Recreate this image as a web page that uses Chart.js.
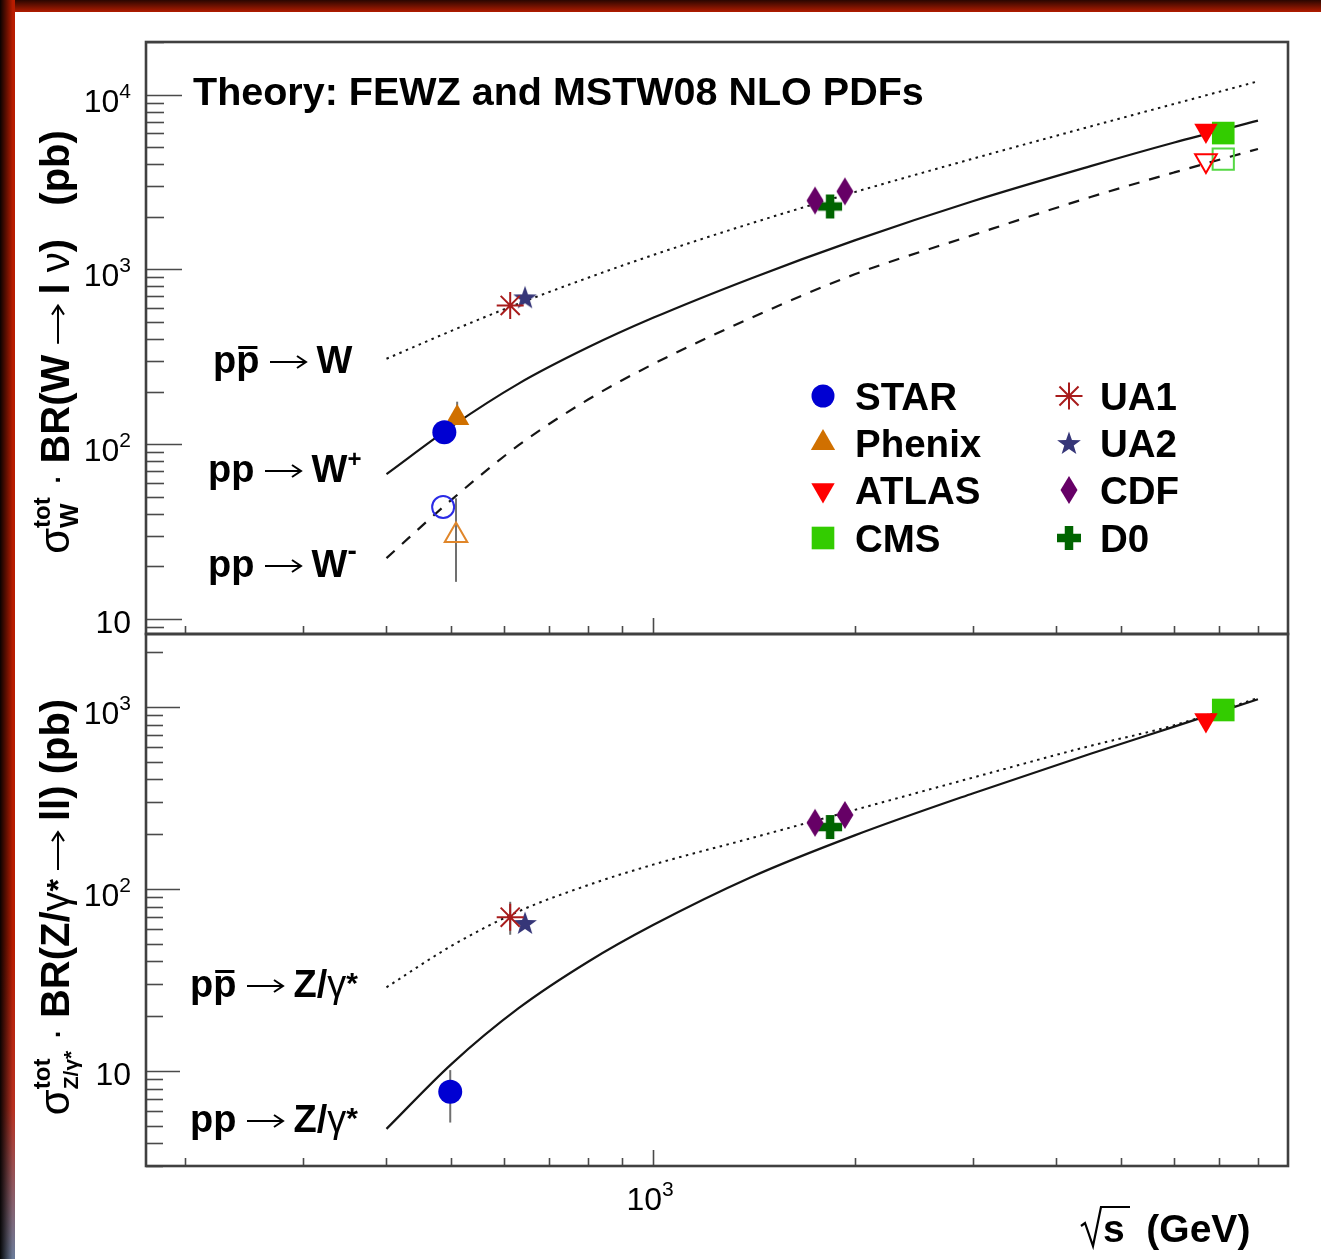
<!DOCTYPE html>
<html>
<head>
<meta charset="utf-8">
<script src="https://cdn.jsdelivr.net/npm/chart.js@4.4.1/dist/chart.umd.min.js"></script>
<style>
  html, body { margin: 0; padding: 0; background: #fff; }
  #page { position: relative; width: 1321px; height: 1259px; overflow: hidden; background: #fff; }
  #edgeTop { position: absolute; left: 0; top: 0; width: 1321px; height: 12px;
    background: linear-gradient(to bottom, #2a0600, #b21c00); }
  #edgeLeft { position: absolute; left: 0; top: 0; width: 15px; height: 1259px;
    background: linear-gradient(to right, rgba(0,0,0,0.95), rgba(0,0,0,0) 85%),
                linear-gradient(to bottom, #b81c00 0%, #b81c00 75%, #b83020 88%, #6a7c9a 100%); }
  canvas { position: absolute; left: 0; top: 0; }
</style>
</head>
<body>
<div id="page">
  <div id="edgeTop"></div>
  <div id="edgeLeft"></div>
  <canvas id="wChart" width="1321" height="1259"></canvas>
  <canvas id="zChart" width="1321" height="1259"></canvas>
</div>
<script>
const FONT = '"Liberation Sans", Arial, Helvetica, sans-serif';
const SYM = '"Liberation Sans", "DejaVu Sans", sans-serif';

// theory curves (FEWZ, MSTW08 NLO): sqrt(s) in GeV, sigma x BR in pb
const sqrtS  = [400, 500, 630, 800, 1000, 1400, 2000, 3000, 4500, 6000, 8000];
const wPPbar = [308, 445, 637, 896, 1208, 1832, 2767, 4295, 6577, 8850, 11910];
const wPlus  = [67.4, 126, 222, 358, 528, 888, 1466, 2455, 3898, 5321, 7100];
const wMinus = [22.3, 48.0, 98.6, 180, 287, 527, 937, 1570, 2594, 3589, 4887];
const zPPbar = [28.8, 48.6, 75.3, 105, 136, 190, 272, 409, 612, 794, 1122];
const zPP    = [4.80, 10.9, 22.1, 39.8, 63.3, 116, 197, 335, 553, 780, 1104];

// measurements (points shifted a little in sqrt(s) so they don't overlap)
const starW    = [{ x: 488, y: 117 }];
const starWm   = [{ x: 486, y: 43.7 }];
const starZ    = [{ x: 498, y: 7.67, lo: 5.2, hi: 10.1 }];
const phenixW  = [{ x: 510, y: 141, lo: 130, hi: 175 }];
const phenixWm = [{ x: 508, y: 30, lo: 16.3, hi: 49 }];
const atlasW   = [{ x: 6690, y: 6223 }];
const atlasWm  = [{ x: 6690, y: 4197 }];
const atlasZ   = [{ x: 6690, y: 848 }];
const cmsW     = [{ x: 7100, y: 6025 }];
const cmsWm    = [{ x: 7100, y: 4276 }];
const cmsZ     = [{ x: 7100, y: 963 }];
const ua1W     = [{ x: 612, y: 622 }];
const ua1Z     = [{ x: 612, y: 70, lo: 56, hi: 85 }];
const ua2W     = [{ x: 644, y: 692 }];
const ua2Z     = [{ x: 644, y: 65 }];
const cdfW     = [{ x: 1745, y: 2478 }, { x: 1934, y: 2794 }];
const cdfZ     = [{ x: 1745, y: 231 }, { x: 1934, y: 255 }];
const d0W      = [{ x: 1838, y: 2291 }];
const d0Z      = [{ x: 1838, y: 219 }];

// axis ranges and tick labels
const xRange = [175, 8870];
const wRange = [8.2, 20000];
const zRange = [3.0, 2520];
const xTickValues = [1000];
const xTickLabels = ['10^3'];
const wTickValues = [10, 100, 1000, 10000];
const wTickLabels = ['10', '10^2', '10^3', '10^4'];
const zTickValues = [10, 100, 1000];
const zTickLabels = ['10', '10^2', '10^3'];

const legendLeft  = ['STAR', 'Phenix', 'ATLAS', 'CMS'];
const legendRight = ['UA1', 'UA2', 'CDF', 'D0'];

const col = {
  star: '#0000d2', starOpen: '#2a2ae6', phenix: '#d07000', phenixOpen: '#e0862a',
  atlas: '#ff0000', cms: '#33cc00', cmsOpen: '#55d844', ua1: '#a81c1c',
  ua2: '#363678', cdf: '#660066', d0: '#006400', curve: '#151515'
};

// ---- custom marker shapes
function markerCanvas(w, h, draw) {
  const c = document.createElement('canvas');
  c.width = w; c.height = h;
  draw(c.getContext('2d'), w, h);
  return c;
}
const diamondMark = markerCanvas(20, 30, (g, w, h) => {
  g.fillStyle = col.cdf;
  g.beginPath();
  g.moveTo(w / 2, 1); g.lineTo(w - 1.5, h / 2); g.lineTo(w / 2, h - 1); g.lineTo(1.5, h / 2);
  g.closePath(); g.fill();
});
const starMark = markerCanvas(26, 26, (g, w, h) => {
  g.fillStyle = col.ua2;
  g.beginPath();
  for (let i = 0; i < 10; i++) {
    const r = i % 2 ? 5 : 12.5;
    const a = -Math.PI / 2 + i * Math.PI / 5;
    const px = w / 2 + r * Math.cos(a), py = h / 2 + 1 + r * Math.sin(a);
    i ? g.lineTo(px, py) : g.moveTo(px, py);
  }
  g.closePath(); g.fill();
});
const plusMark = markerCanvas(26, 26, (g, w, h) => {
  g.fillStyle = col.d0;
  const t = 8.5;
  g.fillRect((w - t) / 2, 1, t, h - 2);
  g.fillRect(1, (h - t) / 2, w - 2, t);
});

const styles = {
  STAR:   { pointStyle: 'circle', radius: 12, bg: col.star, border: col.star, bw: 0 },
  Phenix: { pointStyle: 'triangle', radius: 14, bg: col.phenix, border: col.phenix, bw: 0 },
  ATLAS:  { pointStyle: 'triangle', radius: 13.5, rotation: 180, bg: col.atlas, border: col.atlas, bw: 0 },
  CMS:    { pointStyle: 'rect', radius: 16, bg: col.cms, border: col.cms, bw: 0 },
  UA1:    { pointStyle: 'star', radius: 13.5, bg: col.ua1, border: col.ua1, bw: 2 },
  UA2:    { pointStyle: starMark, radius: 12, bg: col.ua2, border: col.ua2, bw: 0 },
  CDF:    { pointStyle: diamondMark, radius: 12, bg: col.cdf, border: col.cdf, bw: 0 },
  D0:     { pointStyle: plusMark, radius: 12, bg: col.d0, border: col.d0, bw: 0 }
};

function points(name, data, open, openColor) {
  const s = styles[name];
  return {
    type: 'scatter', label: name, data: data, order: 0,
    pointStyle: s.pointStyle, pointRotation: s.rotation || 0,
    pointRadius: open ? s.radius - 1 : s.radius,
    pointBackgroundColor: open ? 'rgba(255,255,255,0)' : s.bg,
    pointBorderColor: open ? openColor : s.border,
    pointBorderWidth: open ? 2 : s.bw
  };
}
function curve(label, ys, dash, width) {
  return {
    type: 'line', label: label, order: 10,
    data: sqrtS.map((x, i) => ({ x: x, y: ys[i] })),
    borderColor: col.curve, borderWidth: width, borderDash: dash,
    pointRadius: 0, fill: false, cubicInterpolationMode: 'monotone'
  };
}

// ---- text helpers: runs of differently styled text on one baseline
function runW(ctx, r) {
  if (r.arrow) return r.arrow;
  ctx.font = r.font;
  return ctx.measureText(r.t).width;
}
function runsWidth(ctx, runs) {
  let w = 0, held = 0;
  runs.forEach(r => {
    const rw = runW(ctx, r);
    if (r.hold) { held = rw; return; }
    w += Math.max(rw, held) + (r.gap || 0); held = 0;
  });
  return w;
}
function drawArrow(ctx, x, y, len) {
  ctx.save();
  ctx.strokeStyle = '#000'; ctx.lineWidth = 2;
  ctx.beginPath();
  ctx.moveTo(x, y); ctx.lineTo(x + len, y);
  ctx.moveTo(x + len - 9, y - 6); ctx.lineTo(x + len, y); ctx.lineTo(x + len - 9, y + 6);
  ctx.stroke();
  ctx.restore();
}
function drawRuns(ctx, runs, x, y, align) {
  const total = runsWidth(ctx, runs);
  let cx = align === 'right' ? x - total : align === 'center' ? x - total / 2 : x;
  let held = 0;
  runs.forEach(r => {
    const rw = runW(ctx, r);
    if (r.arrow) {
      drawArrow(ctx, cx, y - 11, r.arrow);
    } else {
      ctx.font = r.font;
      ctx.fillText(r.t, cx, y + (r.dy || 0));
      if (r.bar) ctx.fillRect(cx + 2, y + r.bar, rw - 4, 3);
    }
    if (r.hold) { held = rw; return; }
    cx += Math.max(rw, held) + (r.gap || 0); held = 0;
  });
}
function tickRuns(label) {
  const parts = label.split('^');
  const runs = [{ t: parts[0], font: '32px ' + FONT }];
  if (parts[1]) runs.push({ t: parts[1], font: '21px ' + FONT, dy: -14 });
  return runs;
}
const B = (px) => 'bold ' + px + 'px ' + FONT;
const R = (px) => px + 'px ' + SYM;

// ---- panel frame, inward ticks, labels and captions
function logTicks(min, max) {
  const out = [];
  for (let e = Math.floor(Math.log10(min)); e <= Math.ceil(Math.log10(max)); e++) {
    for (let m = 1; m <= 9; m++) {
      const v = m * Math.pow(10, e);
      if (v >= min * 0.999 && v <= max * 1.001) out.push({ v: v, major: m === 1 });
    }
  }
  return out;
}
function decor(cfg) {
  return {
    id: 'decor',
    beforeDatasetsDraw(chart) {
      const ctx = chart.ctx, xs = chart.scales.x, ys = chart.scales.y;
      ctx.save();
      ctx.strokeStyle = '#707070'; ctx.lineWidth = 2;
      chart.data.datasets.forEach(ds => ds.data.forEach(d => {
        if (d.lo === undefined) return;
        const px = xs.getPixelForValue(d.x);
        ctx.beginPath();
        ctx.moveTo(px, ys.getPixelForValue(d.hi));
        ctx.lineTo(px, ys.getPixelForValue(d.lo));
        ctx.stroke();
      }));
      ctx.restore();
    },
    afterDraw(chart) {
      const ctx = chart.ctx, a = chart.chartArea, xs = chart.scales.x, ys = chart.scales.y;
      ctx.save();
      ctx.strokeStyle = '#4a4a4a'; ctx.lineWidth = 1.6;
      logTicks(ys.min, ys.max).forEach(t => {
        const py = Math.round(ys.getPixelForValue(t.v)) + 0.5;
        ctx.beginPath(); ctx.moveTo(a.left, py);
        ctx.lineTo(a.left + (t.major ? cfg.yMajor : cfg.yMinor), py); ctx.stroke();
      });
      logTicks(xs.min, xs.max).forEach(t => {
        const px = Math.round(xs.getPixelForValue(t.v)) + 0.5;
        ctx.beginPath(); ctx.moveTo(px, a.bottom);
        ctx.lineTo(px, a.bottom - (t.major ? 16 : 8)); ctx.stroke();
      });
      ctx.strokeStyle = '#404040'; ctx.lineWidth = 2.6;
      ctx.strokeRect(a.left, a.top, a.right - a.left, a.bottom - a.top);

      ctx.fillStyle = '#000';
      ctx.textBaseline = 'alphabetic';
      cfg.yTicks.forEach((v, i) => {
        const py = ys.getPixelForValue(v);
        const lab = cfg.yLabels[i];
        drawRuns(ctx, tickRuns(lab), 131, py + (lab.indexOf('^') > 0 ? 17 : 14), 'right');
      });
      if (cfg.xLabels) {
        xTickValues.forEach((v, i) => {
          drawRuns(ctx, tickRuns(xTickLabels[i]), xs.getPixelForValue(v) - 3, 1210, 'center');
        });
      }
      cfg.texts.forEach(tx => {
        if (tx.rot) {
          ctx.save(); ctx.translate(tx.x, tx.y); ctx.rotate(-Math.PI / 2);
          drawRuns(ctx, tx.runs, 0, 0, 'center');
          ctx.restore();
        } else {
          drawRuns(ctx, tx.runs, tx.x, tx.y, tx.align || 'left');
        }
      });
      if (cfg.legend) drawLegend(ctx);
      if (cfg.after) cfg.after(ctx);
      ctx.restore();
    }
  };
}

function drawLegend(ctx) {
  const rows = [396, 443, 490, 538];
  const put = (name, mx, tx, y) => {
    const s = styles[name];
    ctx.fillStyle = s.bg; ctx.strokeStyle = s.border; ctx.lineWidth = s.bw || 1;
    Chart.helpers.drawPoint(ctx, { pointStyle: s.pointStyle, rotation: s.rotation || 0,
      radius: name === 'STAR' ? 11.5 : s.radius, borderWidth: s.bw }, mx, y);
    ctx.fillStyle = '#000';
    ctx.font = B(38.5);
    ctx.fillText(name, tx, y + 14);
  };
  legendLeft.forEach((n, i) => put(n, 823, 855, rows[i]));
  legendRight.forEach((n, i) => put(n, 1069, 1100, rows[i]));
}

// sqrt sign over s on the x title
function drawSqrt(ctx) {
  ctx.strokeStyle = '#000'; ctx.lineWidth = 2.2;
  ctx.beginPath();
  ctx.moveTo(1081, 1226); ctx.lineTo(1085, 1223); ctx.lineTo(1093, 1246);
  ctx.lineTo(1101, 1207); ctx.lineTo(1130, 1207);
  ctx.stroke();
}

const arrow = { arrow: 36 };
const sp = (px) => ({ t: ' ', font: B(px || 38) });

const wTexts = [
  { x: 193, y: 105, runs: [{ t: 'Theory: FEWZ and MSTW08 NLO PDFs', font: B(39.5) }] },
  { x: 213, y: 373, runs: [{ t: 'p', font: B(38) }, { t: 'p', font: B(38), bar: -27 }, sp(), arrow, sp(), { t: 'W', font: B(38) }] },
  { x: 208, y: 482, runs: [{ t: 'pp', font: B(38) }, sp(), arrow, sp(), { t: 'W', font: B(38) }, { t: '+', font: B(24), dy: -15 }] },
  { x: 208, y: 577, runs: [{ t: 'pp', font: B(38) }, sp(), arrow, sp(), { t: 'W', font: B(38) }, { t: '-', font: B(28), dy: -17 }] },
  { rot: true, x: 69, y: 342, runs: [
    { t: '\u03c3', font: R(42) },
    { t: 'tot', font: B(24), dy: -19, hold: true }, { t: 'W', font: B(26), dy: 9, gap: 11 },
    { t: '\u00b7', font: R(38), gap: 10 },
    { t: 'BR(W ', font: B(40) }, { arrow: 38 }, { t: ' l ', font: B(40) },
    { t: '\u03bd', font: R(40) }, { t: ')   (pb)', font: B(40) }
  ] }
];

const zTexts = [
  { x: 190, y: 997, runs: [{ t: 'p', font: B(38) }, { t: 'p', font: B(38), bar: -27 }, sp(), arrow, sp(),
    { t: 'Z/', font: B(38) }, { t: '\u03b3', font: R(38) }, { t: '*', font: B(30), dy: -4 }] },
  { x: 190, y: 1132, runs: [{ t: 'pp', font: B(38) }, sp(), arrow, sp(),
    { t: 'Z/', font: B(38) }, { t: '\u03b3', font: R(38) }, { t: '*', font: B(30), dy: -4 }] },
  { rot: true, x: 69, y: 907, runs: [
    { t: '\u03c3', font: R(42) },
    { t: 'tot', font: B(24), dy: -19, hold: true }, { t: 'Z/\u03b3*', font: B(21), dy: 9, gap: 10 },
    { t: '\u00b7', font: R(38), gap: 10 },
    { t: 'BR(Z/', font: B(40) }, { t: '\u03b3', font: R(40) }, { t: '* ', font: B(32) },
    { arrow: 38 }, { t: ' ll) (pb)', font: B(40) }
  ] },
  { x: 1103, y: 1242, runs: [{ t: 's  (GeV)', font: B(39) }] }
];

function baseOptions(yRange, padding) {
  return {
    responsive: false, animation: false,
    layout: { padding: padding },
    plugins: { legend: { display: false }, tooltip: { enabled: false } },
    scales: {
      x: { type: 'logarithmic', min: xRange[0], max: xRange[1], display: false },
      y: { type: 'logarithmic', min: yRange[0], max: yRange[1], display: false }
    }
  };
}

new Chart(document.getElementById('wChart'), {
  type: 'scatter',
  data: {
    datasets: [
      points('STAR', starW), points('STAR', starWm, true, col.starOpen),
      points('Phenix', phenixW), points('Phenix', phenixWm, true, col.phenixOpen),
      points('ATLAS', atlasW), points('ATLAS', atlasWm, true, col.atlas),
      points('CMS', cmsW), points('CMS', cmsWm, true, col.cmsOpen),
      points('UA1', ua1W), points('UA2', ua2W), points('CDF', cdfW), points('D0', d0W),
      curve('ppbar -> W', wPPbar, [2.5, 4.5], 2),
      curve('pp -> W+', wPlus, [], 2.2),
      curve('pp -> W-', wMinus, [11, 10], 2.2)
    ]
  },
  options: baseOptions(wRange, { left: 146, top: 42, right: 33, bottom: 625 }),
  plugins: [decor({ yTicks: wTickValues, yLabels: wTickLabels, yMajor: 36, yMinor: 18,
                    texts: wTexts, legend: true })]
});

new Chart(document.getElementById('zChart'), {
  type: 'scatter',
  data: {
    datasets: [
      points('STAR', starZ), points('ATLAS', atlasZ), points('CMS', cmsZ),
      points('UA1', ua1Z), points('UA2', ua2Z), points('CDF', cdfZ), points('D0', d0Z),
      curve('ppbar -> Z', zPPbar, [2.5, 4.5], 2),
      curve('pp -> Z', zPP, [], 2.2)
    ]
  },
  options: baseOptions(zRange, { left: 146, top: 634, right: 33, bottom: 93 }),
  plugins: [decor({ yTicks: zTickValues, yLabels: zTickLabels, yMajor: 34, yMinor: 17,
                    texts: zTexts, xLabels: true, after: drawSqrt })]
});
</script>
</body>
</html>
